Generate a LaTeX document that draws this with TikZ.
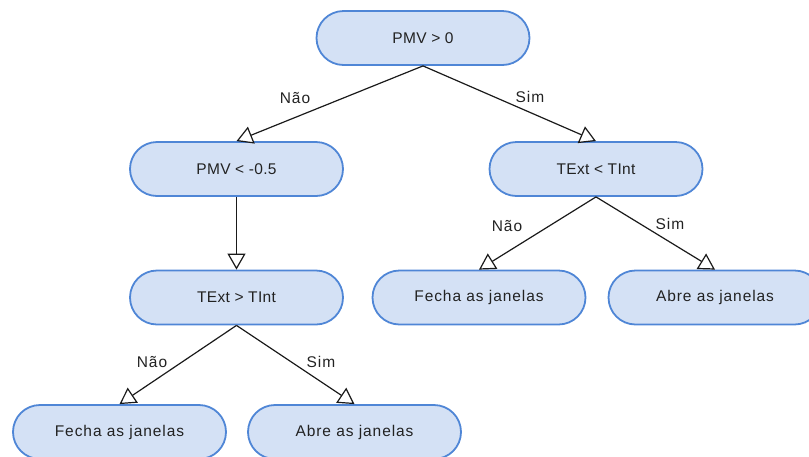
\documentclass[tikz,border=0pt]{standalone}
\usepackage{fontspec}
\setmainfont{Liberation Sans}
\newfontfamily\widefont[LetterSpace=6]{Liberation Sans}
\newfontfamily\midfont[LetterSpace=2]{Liberation Sans}
\usetikzlibrary{arrows.meta,shapes.misc}
\definecolor{boxfill}{HTML}{D4E1F5}
\definecolor{boxline}{HTML}{4F86D6}
\definecolor{linec}{HTML}{1A1A1A}
\definecolor{textc}{HTML}{222222}
\begin{document}
\begin{tikzpicture}[x=1pt,y=-1pt,
  decision/.style={rounded rectangle, draw=boxline, line width=1.8pt, fill=boxfill,
    minimum width=213pt, minimum height=54pt, inner sep=0pt, text=textc,
    font=\midfont\fontsize{15.5}{18}\selectfont},
  leaf/.style={decision, font=\widefont\fontsize{15.5}{18}\selectfont},
  conn/.style={draw=linec, line width=1.2pt,
    -{Triangle[open,length=16pt,width=18pt,fill=white,line width=1.2pt]}},
  lbl/.style={text=textc, font=\widefont\fontsize{15.5}{18}\selectfont, inner sep=0pt}]
\clip (0,0) rectangle (809,456);
\useasboundingbox (0,0) rectangle (809,456);
\node[decision] (root) at (423,38) {PMV > 0};
\node[decision] (pmvneg) at (236.5,169) {PMV < -0.5};
\node[decision] (textlt) at (596,169) {TExt < TInt};
\node[decision] (textgt) at (236.5,297.5) {TExt > TInt};
\node[leaf] (fecha1) at (479,297.5) {Fecha as janelas};
\node[leaf] (abre1) at (715,297.5) {Abre as janelas};
\node[leaf] (fecha2) at (119.5,432) {Fecha as janelas};
\node[leaf] (abre2) at (354.5,432) {Abre as janelas};
\draw[conn] (root.south) -- (pmvneg.north);
\draw[conn] (root.south) -- (textlt.north);
\draw[conn] (pmvneg.south) -- (textgt.north);
\draw[conn] (textlt.south) -- (fecha1.north);
\draw[conn] (textlt.south) -- (abre1.north);
\draw[conn] (textgt.south) -- (fecha2.north);
\draw[conn] (textgt.south) -- (abre2.north);
\node[lbl] (l1) at (295,98) {Não};
\node[lbl] (l2) at (530,97) {Sim};
\node[lbl] (l3) at (507,226) {Não};
\node[lbl] (l4) at (670,224) {Sim};
\node[lbl] (l5) at (152,362) {Não};
\node[lbl] (l6) at (321,362) {Sim};
\end{tikzpicture}
\end{document}
